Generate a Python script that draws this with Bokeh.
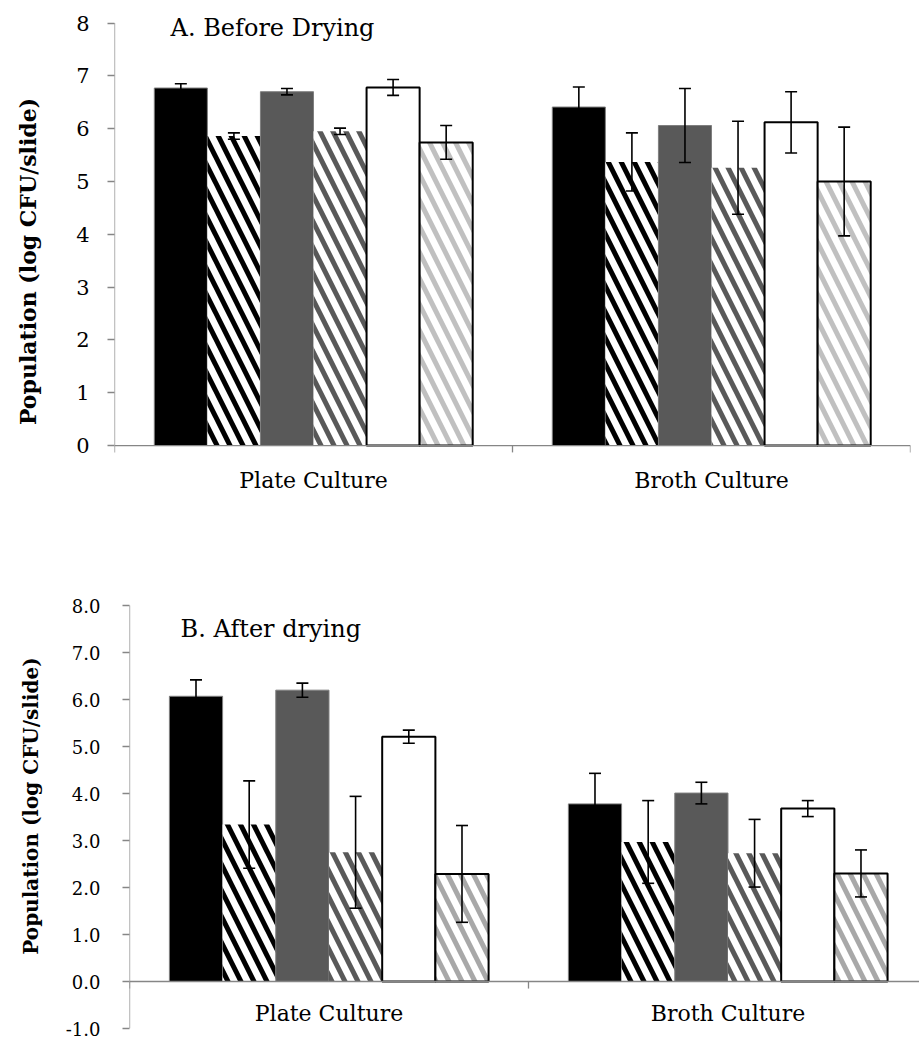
from bokeh.plotting import figure
from bokeh.models import (ColumnDataSource, Range1d, FixedTicker, Whisker, TeeHead,
                          Span, NumeralTickFormatter)
from bokeh.embed import file_html
from bokeh.resources import INLINE
from bokeh.core.properties import value

# ---------------- data ----------------
categories = ["Plate Culture", "Broth Culture"]
series = ["Series 1", "Series 2", "Series 3", "Series 4", "Series 5", "Series 6"]

# A. Before drying
before_plate = [6.77, 5.86, 6.70, 5.95, 6.78, 5.74]
before_plate_err = [0.08, 0.06, 0.06, 0.06, 0.15, 0.32]
before_broth = [6.41, 5.37, 6.06, 5.26, 6.12, 5.00]
before_broth_err = [0.38, 0.55, 0.70, 0.88, 0.58, 1.03]

# B. After drying
after_plate = [6.07, 3.34, 6.20, 2.75, 5.21, 2.29]
after_plate_err = [0.35, 0.93, 0.15, 1.19, 0.14, 1.03]
after_broth = [3.78, 2.97, 4.01, 2.73, 3.68, 2.30]
after_broth_err = [0.65, 0.88, 0.23, 0.72, 0.17, 0.50]

top_ticks = [0, 1, 2, 3, 4, 5, 6, 7, 8]
bottom_ticks = [-1, 0, 1, 2, 3, 4, 5, 6, 7, 8]

title_top = "A. Before Drying"
title_bottom = "B. After drying"
y_label = "Population (log CFU/slide)"

# ---------------- styles ----------------
FONT = "DejaVu Serif"
AXIS_GRAY = "#868686"
fill_colors = ["#000000", "#ffffff", "#595959", "#ffffff", "#ffffff", "#ffffff"]
hatch_patterns = [" ", "left_diagonal_line", " ", "left_diagonal_line", " ", "left_diagonal_line"]
hatch_colors_top = ["#000000", "#000000", "#000000", "#595959", "#000000", "#c0c0c0"]
hatch_colors_bottom = ["#000000", "#000000", "#000000", "#595959", "#000000", "#a8a8a8"]
line_colors = ["#7f7f7f", None, "#7f7f7f", None, "#000000", "#000000"]
line_widths = [1, 0, 1, 0, 2, 2]

GROUP_FRAC = 0.8
n_s = len(series)
bar_w = GROUP_FRAC / n_s
centers = [i + 0.5 for i in range(len(categories))]
bounds = [i for i in range(len(categories) + 1)]


def add_bars(p, plate, plate_err, broth, broth_err, hatch_colors):
    vals_by_cat = [plate, broth]
    errs_by_cat = [plate_err, broth_err]
    for j in range(n_s):
        xs, tops, ups, lows = [], [], [], []
        for i in range(len(categories)):
            xs.append(i + (1 - GROUP_FRAC) / 2 + (j + 0.5) * bar_w)
            v = vals_by_cat[i][j]
            e = errs_by_cat[i][j]
            tops.append(v)
            ups.append(v + e)
            lows.append(v - e)
        src = ColumnDataSource(dict(x=xs, top=tops, upper=ups, lower=lows))
        kw = dict(x="x", top="top", bottom=0, width=bar_w, source=src,
                  fill_color=fill_colors[j])
        if hatch_patterns[j].strip():
            kw.update(hatch_pattern=hatch_patterns[j], hatch_color=hatch_colors[j],
                      hatch_scale=26, hatch_weight=5)
        if line_colors[j] is None:
            kw.update(line_color=None)
        else:
            kw.update(line_color=line_colors[j], line_width=line_widths[j])
        p.vbar(**kw)
        w = Whisker(base="x", upper="upper", lower="lower", source=src, level="overlay",
                    line_color="black", line_width=1.6,
                    upper_head=TeeHead(size=12, line_color="black", line_width=1.6),
                    lower_head=TeeHead(size=12, line_color="black", line_width=1.6))
        p.add_layout(w)


def style_axes(p, ticks, tick_font, tick_standoff, label_font, label_standoff, tick_len):
    ax = p.yaxis[0]
    ax.ticker = FixedTicker(ticks=ticks)
    ax.axis_line_color = None
    ax.major_tick_line_color = AXIS_GRAY
    ax.major_tick_line_width = 1.3
    ax.major_tick_out = 7
    ax.major_tick_in = 0
    ax.minor_tick_line_color = None
    ax.major_label_text_font = FONT
    ax.major_label_text_font_size = tick_font
    ax.major_label_text_color = "black"
    ax.major_label_standoff = tick_standoff
    ax.axis_label = y_label
    ax.axis_label_text_font = FONT
    ax.axis_label_text_font_size = label_font
    ax.axis_label_text_font_style = "bold"
    ax.axis_label_text_color = "black"
    ax.axis_label_standoff = label_standoff
    # y axis line only over the tick span, x axis line at zero with category boundary ticks
    p.segment(x0=[0], y0=[ticks[0]], x1=[0], y1=[ticks[-1]], line_color=AXIS_GRAY,
              line_width=1.3)
    p.add_layout(Span(location=0, dimension="width", line_color=AXIS_GRAY, line_width=1.3))
    p.segment(x0=bounds, y0=[0] * len(bounds), x1=bounds, y1=[-tick_len] * len(bounds),
              line_color=AXIS_GRAY, line_width=1.3)


def base_fig(height, x_end, y0, y1, left, right, top, bottom):
    p = figure(width=919, height=height, output_backend="svg", toolbar_location=None,
               x_range=Range1d(0, x_end), y_range=Range1d(y0, y1), x_axis_location=None,
               min_border_left=left, min_border_right=right, min_border_top=top,
               min_border_bottom=bottom)
    p.outline_line_color = None
    p.xgrid.visible = False
    p.ygrid.visible = False
    return p


# ---------------- top chart ----------------
p1 = base_fig(540, len(categories), -1.23, 8.2, 114, 9, 12, 30)
add_bars(p1, before_plate, before_plate_err, before_broth, before_broth_err, hatch_colors_top)
style_axes(p1, top_ticks, "21px", 18, "22px", 32, 0.13)
p1.text(x=centers, y=[-0.66] * len(centers), text=categories, text_font=value(FONT),
        text_font_size="22px", text_color="black", text_align="center",
        text_baseline="middle")
p1.text(x=[0.141], y=[7.9], text=[title_top], text_font=value(FONT),
        text_font_size="24px", text_color="black", text_baseline="alphabetic")

# ---------------- bottom chart ----------------
p2 = base_fig(500, 1.98, -1, 8.47, 129, 0, 43, 12)
add_bars(p2, after_plate, after_plate_err, after_broth, after_broth_err, hatch_colors_bottom)
style_axes(p2, bottom_ticks, "18px", 22, "20px", 20, 0.15)
p2.yaxis[0].formatter = NumeralTickFormatter(format="0.0")
p2.text(x=centers, y=[-0.69] * len(centers), text=categories, text_font=value(FONT),
        text_font_size="22px", text_color="black", text_align="center",
        text_baseline="middle")
p2.text(x=[0.128], y=[7.51], text=[title_bottom], text_font=value(FONT),
        text_font_size="24px", text_color="black", text_baseline="alphabetic")

open("out.html", "w").write(file_html([p1, p2], INLINE))
